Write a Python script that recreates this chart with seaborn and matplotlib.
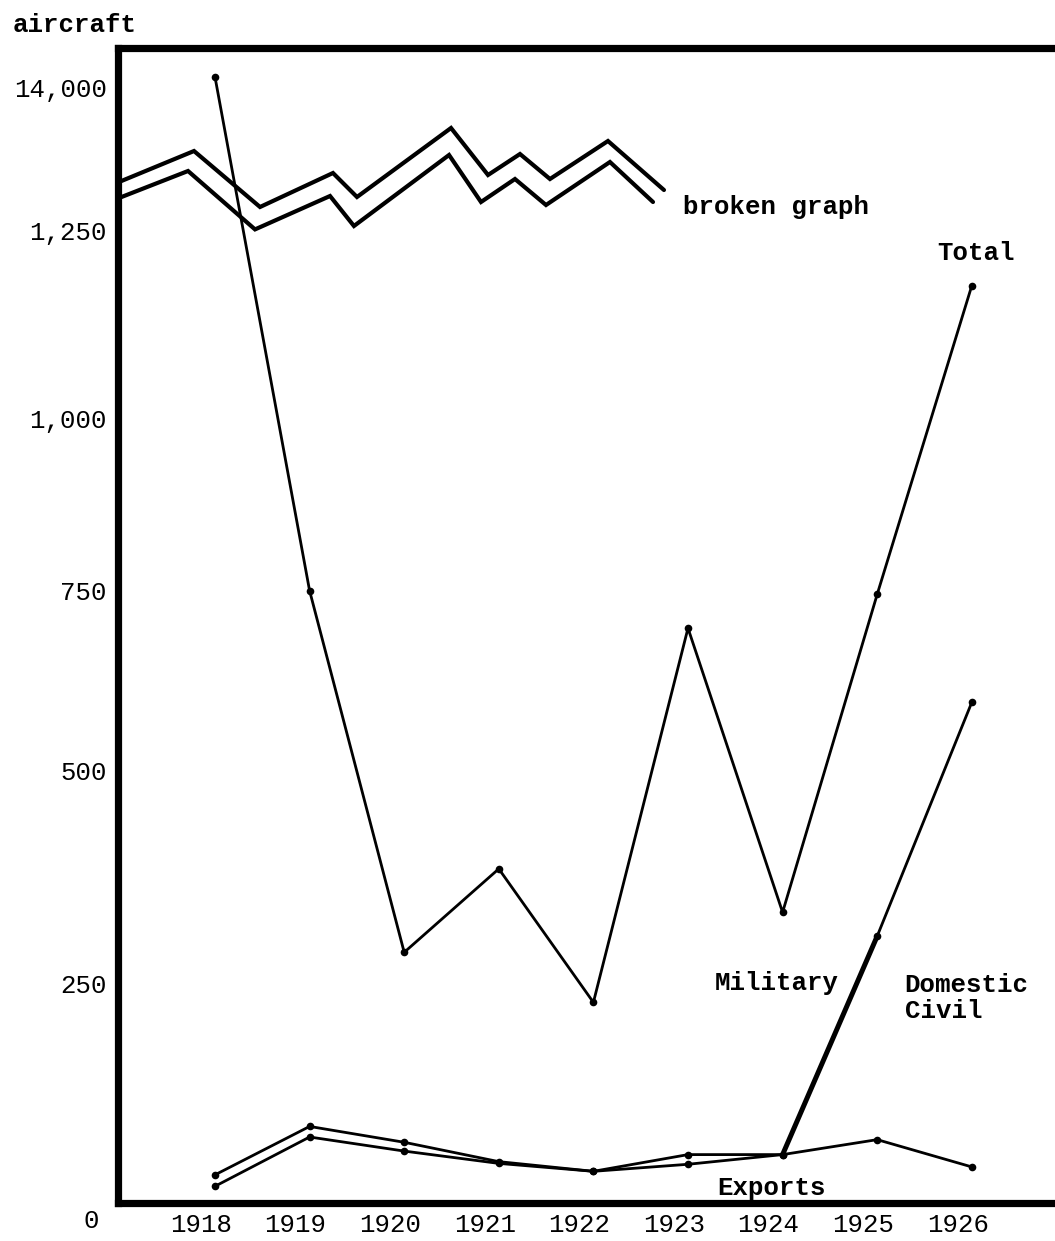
import numpy as np
import pandas as pd
import matplotlib
matplotlib.use("Agg")
import matplotlib.pyplot as plt
import matplotlib.transforms as mtransforms
import seaborn as sns

# ---------------- data ----------------
years = [1918, 1919, 1920, 1921, 1922, 1923, 1924, 1925, 1926]
total = [14000, 749, 286, 384, 228, 697, 333, 744, 1176]
civil_line = [32, 87, 69, 47, 36, 55, 55, 305, 594]
exports_line = [19, 75, 59, 45, 36, 44, 55, 72, 41]

y_ticks = [0, 250, 500, 750, 1000, 1250, 14000]
y_tick_labels = ["0", "250", "500", "750", "1,000", "1,250", "14,000"]
x_tick_labels = ["1918", "1919", "1920", "1921", "1922", "1923", "1924", "1925", "1926"]

# decorative "broken graph" zig-zag (year, value) in the compressed band
break_x_upper = [1916.985, 1917.778, 1918.476, 1919.247, 1919.501, 1920.495,
                 1920.886, 1921.224, 1921.541, 1922.154, 1922.746]
break_y_upper = [5250, 7833, 3167, 6000, 4000, 9750, 5833, 7583, 5500, 8667, 4583]
break_x_lower = [1916.985, 1917.715, 1918.423, 1919.216, 1919.469, 1920.474,
                 1920.812, 1921.171, 1921.499, 1922.175, 1922.630]
break_y_lower = [3917, 6167, 1300, 4083, 1583, 7500, 3583, 5500, 3333, 6917, 3583]

# ---------------- hand-drawn (irregular) vertical scale ----------------
anchor_vals = np.array([0, 250, 500, 750, 1000, 1250, 14000], float)
anchor_pos = -np.array([1203, 983, 770, 590, 418, 230, 77], float)


def _pw(v, xs, ys):
    v = np.asarray(v, float)
    out = np.interp(v, xs, ys)
    s_lo = (ys[1] - ys[0]) / (xs[1] - xs[0])
    s_hi = (ys[-1] - ys[-2]) / (xs[-1] - xs[-2])
    out = np.where(v < xs[0], ys[0] + (v - xs[0]) * s_lo, out)
    out = np.where(v > xs[-1], ys[-1] + (v - xs[-1]) * s_hi, out)
    return out


def fwd(v):
    return _pw(v, anchor_vals, anchor_pos)


def inv(p):
    return _pw(p, anchor_pos, anchor_vals)


# ---------------- style ----------------
sns.set_style("white")
plt.rcParams["font.family"] = ["Liberation Mono", "DejaVu Sans Mono"]

W, H = 1055, 1241
fig = plt.figure(figsize=(W / 100, H / 100), dpi=100)
ax_left, ax_right, ax_top, ax_bottom = 118, 1062, 48, 1203
ax = fig.add_axes([ax_left / W, 1 - ax_bottom / H, (ax_right - ax_left) / W,
                   (ax_bottom - ax_top) / H])

ax.set_yscale("function", functions=(fwd, inv))

df = pd.DataFrame({"year": years, "total": total, "civil": civil_line,
                   "exports": exports_line})

line_kw = dict(color="black", marker="o", markersize=5.5, markeredgewidth=0,
               legend=False, sort=False)

sns.lineplot(data=df, x="year", y="total", ax=ax, linewidth=2.0, **line_kw)
sns.lineplot(data=df, x="year", y="exports", ax=ax, linewidth=2.0, **line_kw)
sns.lineplot(data=df, x="year", y="civil", ax=ax, linewidth=2.0, **line_kw)
thick = df[(df["year"] >= 1924) & (df["year"] <= 1925)]
sns.lineplot(data=thick, x="year", y="civil", ax=ax, linewidth=3.6,
             color="black", legend=False, sort=False)

# broken-scale symbol
ax.plot(break_x_upper, break_y_upper, color="black", linewidth=3.0,
        solid_joinstyle="miter")
ax.plot(break_x_lower, break_y_lower, color="black", linewidth=3.0,
        solid_joinstyle="miter")

# limits (pixel 118 -> 1062 horizontally, 94.6 px per year, 1918 at px 215)
ax.set_xlim(1918 + (ax_left - 215) / 94.6, 1918 + (ax_right - 215) / 94.6)
ax.set_ylim(0, 16417)

ax.set_xticks(years)
ax.set_xticklabels(x_tick_labels)
ax.set_yticks(y_ticks)
ax.set_yticklabels(y_tick_labels)
ax.tick_params(axis="both", length=0, labelsize=18.5, colors="black")
ax.tick_params(axis="y", pad=8)
ax.tick_params(axis="x", pad=7)
ax.set_xlabel("")
ax.set_ylabel("")

# shift the typed labels a bit like in the original
for lab in ax.get_xticklabels():
    lab.set_transform(lab.get_transform() +
                      mtransforms.ScaledTranslation(-14 / 100, 0, fig.dpi_scale_trans))
ylabs = ax.get_yticklabels()
ylabs[0].set_transform(ylabs[0].get_transform() +
                       mtransforms.ScaledTranslation(-8 / 100, -16 / 100, fig.dpi_scale_trans))
ylabs[-1].set_transform(ylabs[-1].get_transform() +
                        mtransforms.ScaledTranslation(0, -10 / 100, fig.dpi_scale_trans))

for side in ["left", "top", "bottom"]:
    ax.spines[side].set_linewidth(5.2)
    ax.spines[side].set_color("black")
ax.spines["right"].set_visible(False)
ax.grid(False)

# annotations
tk = dict(fontsize=18.5, fontweight="bold", color="black")
fig.text(13 / W, 1 - 25 / H, "aircraft", ha="left", va="center", **tk)
ax.text(1922.947, 3167, "broken graph", ha="left", va="center", **tk)
ax.text(1926.04, 1219, "Total", ha="center", va="center", **tk)
ax.text(1923.94, 250, "Military", ha="center", va="center", **tk)
ax.text(1925.29, 233, "Domestic\nCivil", ha="left", va="center",
        linespacing=1.15, **tk)
ax.text(1923.88, 17, "Exports", ha="center", va="center", **tk)

fig.savefig("out.png", dpi=100)
